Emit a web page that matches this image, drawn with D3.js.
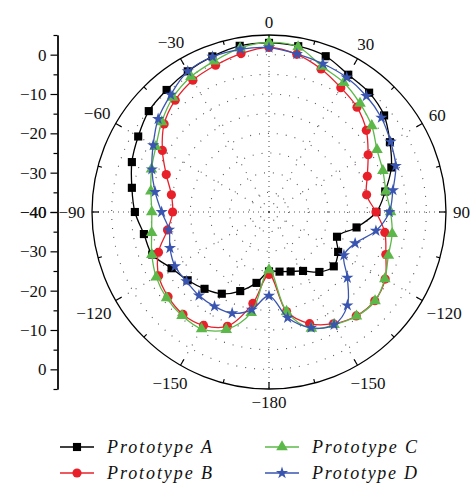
<!DOCTYPE html>
<html><head><meta charset="utf-8">
<script src="https://cdn.jsdelivr.net/npm/d3@7"></script>
<style>body{margin:0;background:#fff}svg{display:block}
.serif{font-family:"Liberation Serif","Times New Roman",Times,"DejaVu Serif",serif}</style>
</head><body><svg id="chart" width="472" height="484"></svg>
<script>
// ---- data ----
const angles = [0,10,20,30,40,50,60,70,80,90,100,110,120,130,140,150,160,170,180,
                190,200,210,220,230,240,250,260,270,280,290,300,310,320,330,340,350];
const protoA = [3.0,2.8,2.15,0.3,-0.4,-1.8,-4.5,-6.9,-10.0,-12.7,-17.4,-21.6,-19.7,-18.5,-20.1,-22.7,-23.9,-24.6,-24.9,
                -21.7,-18.6,-16.0,-14.5,-13.0,-11.4,-8.4,-7.7,-5.9,-4.6,-2.9,-1.6,-0.1,0.5,1.3,2.1,2.9];
const protoB = [1.85,0.7,-1.3,-3.5,-5.2,-7.7,-10.9,-13.4,-14.8,-12.8,-10.1,-8.4,-5.9,-4.9,-5.5,-7.2,-9.8,-14.3,-24.1,
                -16.4,-9.1,-6.7,-6.0,-6.5,-7.6,-10.1,-13.8,-15.5,-14.8,-12.2,-8.7,-5.2,-2.9,-1.3,-0.3,0.9];
const protoC = [3.1,2.6,-0.6,-2.0,-4.0,-5.9,-8.3,-9.2,-9.8,-9.1,-8.2,-7.7,-6.0,-4.8,-5.4,-6.9,-8.5,-14.3,-25.3,
                -14.0,-8.2,-5.7,-5.6,-6.0,-6.9,-8.3,-9.7,-10.2,-9.5,-8.2,-6.8,-4.4,-2.0,-0.3,0.8,2.3];
const protoD = [1.8,0.8,0.1,-0.5,-1.5,-2.7,-4.3,-5.7,-8.0,-9.4,-12.4,-16.7,-18.0,-14.0,-9.0,-6.9,-8.7,-12.7,-18.7,
                -14.8,-12.6,-12.3,-12.3,-12.6,-12.4,-13.2,-14.2,-12.7,-10.6,-8.3,-6.0,-3.2,-1.1,1.3,2.0,2.0];
const seriesNames = ["Prototype A","Prototype B","Prototype C","Prototype D"];
const seriesValues = [protoA, protoB, protoC, protoD];
const seriesColors = ["#000000","#e8202a","#5cb848","#3a55b0"];
const seriesSymbols = [d3.symbolSquare, d3.symbolCircle, d3.symbolTriangle, d3.symbolStar];
const symbolSizes = [66, 66, 58, 46];
const radialMajor = [0,-10,-20,-30,-40];
const radialMinor = [5,-5,-15,-25,-35];
const gridLevels = [-35,-30,-25,-20,-15,-10,-5,0];
const angleTicks = [0,30,60,90,120,150,180,210,240,270,300,330];
const angleLabels = ["0","30","60","90","−120","−150","−180","−150","−120","−90","−60","−30"];
const minorAngles = [15,45,75,105,135,165,195,225,255,285,315,345];

// ---- layout ----
const svg = d3.select("#chart");
const cx = 269, cy = 212;
const rDomain = [-40, 5];
const R = 177;
const r = d3.scaleLinear().domain(rDomain).range([0, R]);
const rad = a => a * Math.PI / 180;

const g = svg.append("g").attr("transform", `translate(${cx},${cy})`);

// grid circles
g.selectAll("circle.grid").data(gridLevels).join("circle")
  .attr("r", d => r(d)).attr("fill", "none")
  .attr("stroke", "#555").attr("stroke-width", 1.1).attr("stroke-dasharray", "1,8");
// spokes
g.selectAll("line.spoke").data(angleTicks).join("line")
  .attr("x1", 0).attr("y1", 0)
  .attr("x2", d => R * Math.sin(rad(d))).attr("y2", d => -R * Math.cos(rad(d)))
  .attr("stroke", "#555").attr("stroke-width", 1.1)
  .attr("stroke-dasharray", d => (d % 90 === 0) ? "1,4" : "1,8");

// outer circle
g.append("circle").attr("r", R).attr("fill", "none").attr("stroke", "#000").attr("stroke-width", 1.3);
// angle ticks
g.selectAll("line.maj").data(angleTicks).join("line")
  .attr("x1", d => R * Math.sin(rad(d))).attr("y1", d => -R * Math.cos(rad(d)))
  .attr("x2", d => (R - 7) * Math.sin(rad(d))).attr("y2", d => -(R - 7) * Math.cos(rad(d)))
  .attr("stroke", "#000").attr("stroke-width", 1.2);
g.selectAll("line.min").data(minorAngles).join("line")
  .attr("x1", d => R * Math.sin(rad(d))).attr("y1", d => -R * Math.cos(rad(d)))
  .attr("x2", d => (R - 4) * Math.sin(rad(d))).attr("y2", d => -(R - 4) * Math.cos(rad(d)))
  .attr("stroke", "#000").attr("stroke-width", 1.2);

// angle labels
angleTicks.forEach((a, i) => {
  const t = g.append("text").text(angleLabels[i]).attr("class", "serif")
    .attr("font-size", 17).attr("fill", "#111")
    .attr("text-anchor", "middle").attr("dy", "0.35em");
  const w = t.node().getComputedTextLength();
  const s = Math.sin(rad(a)), c = Math.cos(rad(a));
  const rr = R + 7 + 0.5 * w * Math.abs(s) + 6 * Math.abs(c);
  t.attr("x", rr * s).attr("y", -rr * c);
});

// series
const line = d3.lineRadial()
  .angle((d, i) => rad(angles[i]))
  .radius(d => r(d))
  .curve(d3.curveCatmullRomClosed.alpha(0.5));

seriesValues.forEach((vals, si) => {
  const sg = svg.append("g").attr("transform", `translate(${cx},${cy})`);
  sg.append("path").attr("d", line(vals)).attr("fill", "none")
    .attr("stroke", seriesColors[si]).attr("stroke-width", 1.3);
  const sym = d3.symbol().type(seriesSymbols[si]).size(symbolSizes[si]);
  sg.selectAll("path.m").data(vals).join("path")
    .attr("d", sym)
    .attr("transform", (d, i) => {
      const a = rad(angles[i]);
      return `translate(${r(d) * Math.sin(a)},${-r(d) * Math.cos(a)})`;
    })
    .attr("fill", seriesColors[si]);
});

// left axis
const axisX = 57.5;
const yTop = d3.scaleLinear().domain(rDomain).range([cy, cy - R]);
const yBot = d3.scaleLinear().domain(rDomain).range([cy, cy + R]);
const fmt = d3.format("d");
[yTop, yBot].forEach(sc => {
  const maj = svg.append("g").attr("transform", `translate(${axisX},0)`)
    .call(d3.axisLeft(sc).tickValues(radialMajor).tickFormat(fmt).tickSize(7).tickSizeOuter(0).tickPadding(4));
  const mn = svg.append("g").attr("transform", `translate(${axisX},0)`)
    .call(d3.axisLeft(sc).tickValues(radialMinor).tickFormat("").tickSize(4).tickSizeOuter(0));
  [maj, mn].forEach(ax => {
    ax.attr("font-family", null).attr("font-size", null);
    ax.select(".domain").attr("stroke", "#000").attr("stroke-width", 1.3);
    ax.selectAll(".tick line").attr("stroke", "#000").attr("stroke-width", 1.2);
    ax.selectAll("text").attr("class", "serif").attr("font-size", 17).attr("fill", "#111");
  });
});

// legend
const legendPos = [[60, 447], [60, 473], [265, 447], [265, 473]];
seriesNames.forEach((name, i) => {
  const [lx, ly] = legendPos[i];
  const lg = svg.append("g").attr("transform", `translate(${lx},${ly})`);
  lg.append("line").attr("x1", 0).attr("x2", 34).attr("y1", 0).attr("y2", 0)
    .attr("stroke", seriesColors[i]).attr("stroke-width", 1.3);
  lg.append("path").attr("d", d3.symbol().type(seriesSymbols[i]).size(symbolSizes[i])())
    .attr("transform", "translate(17,0)").attr("fill", seriesColors[i]);
  lg.append("text").text(name).attr("x", 47).attr("y", 0).attr("dy", "0.33em")
    .attr("class", "serif").attr("font-style", "italic").attr("font-size", 18)
    .attr("fill", "#111").attr("textLength", 105).attr("lengthAdjust", "spacing");
});
</script>
</body></html>
